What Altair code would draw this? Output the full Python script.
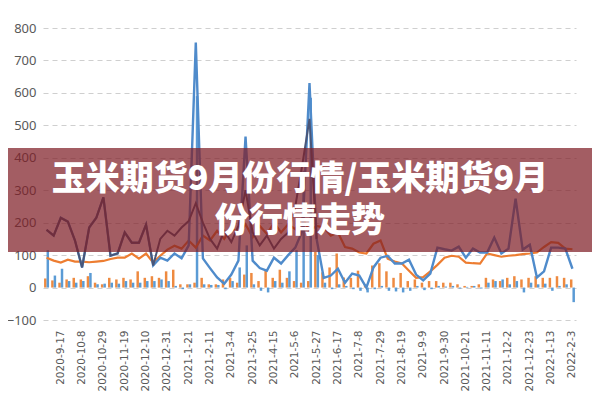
import altair as alt
import pandas as pd

dates = [
    "2020-9-3", "2020-9-10", "2020-9-17", "2020-9-24", "2020-10-1", "2020-10-8", "2020-10-15", "2020-10-22",
    "2020-10-29", "2020-11-5", "2020-11-12", "2020-11-19", "2020-11-26", "2020-12-3", "2020-12-10", "2020-12-17",
    "2020-12-24", "2020-12-31", "2021-1-7", "2021-1-14", "2021-1-21", "2021-1-28", "2021-2-4", "2021-2-11",
    "2021-2-18", "2021-2-25", "2021-3-4", "2021-3-11", "2021-3-18", "2021-3-25", "2021-4-1", "2021-4-8",
    "2021-4-15", "2021-4-22", "2021-4-29", "2021-5-6", "2021-5-13", "2021-5-20", "2021-5-27", "2021-6-3",
    "2021-6-10", "2021-6-17", "2021-6-24", "2021-7-1", "2021-7-8", "2021-7-15", "2021-7-22", "2021-7-29",
    "2021-8-5", "2021-8-12", "2021-8-19", "2021-8-26", "2021-9-2", "2021-9-9", "2021-9-16", "2021-9-23",
    "2021-9-30", "2021-10-7", "2021-10-14", "2021-10-21", "2021-10-28", "2021-11-4", "2021-11-11", "2021-11-18",
    "2021-11-25", "2021-12-2", "2021-12-9", "2021-12-16", "2021-12-23", "2021-12-30", "2022-1-6", "2022-1-13",
    "2022-1-20", "2022-1-27", "2022-2-3",
]
label_dates = [
    "2020-9-17", "2020-10-8", "2020-10-29", "2020-11-19", "2020-12-10", "2020-12-31", "2021-1-21", "2021-2-11",
    "2021-3-4", "2021-3-25", "2021-4-15", "2021-5-6", "2021-5-27", "2021-6-17", "2021-7-8", "2021-7-29",
    "2021-8-19", "2021-9-9", "2021-9-30", "2021-10-21", "2021-11-11", "2021-12-2", "2021-12-23", "2022-1-13",
    "2022-2-3",
]

orange_bars = [28, 22, 15, 25, 30, 25, 35, 15, 10, 30, 25, 30, 25, 50, 30, 35, 30, 50, 55, 10,
               10, 15, 30, 10, 10, 25, 30, 15, 40, 45, 20, 55, 30, 55, 30, 20, 15, 20, 110, 47,
               62, 105, 31, 30, 52, 10, 68, 75, 50, 30, 45, 20, 25, 15, 20, 20, 15, 15, 10, 5,
               5, 10, 30, 25, 20, 30, 35, 25, 30, 35, 30, 30, 35, 30, 25]
blue_bars = [115, 37, 58, 20, 15, 20, 45, 10, 12, 15, 12, 20, 15, 15, 20, 20, 25, 20, 5, -5,
             10, 590, 10, 8, 8, -5, 20, 62, 130, 10, -10, -15, 20, 15, 50, 115, 360, 585, 100, 15,
             -5, 10, 5, -5, -10, -15, -5, 5, -10, -12, -15, -10, 5, -8, -5, 5, 3, 5, -3, 2,
             5, -3, 15, 20, 25, 10, 20, -15, 15, 10, 12, -10, 5, 10, -45]
blue_line = [178, 160, 215, 203, 145, 62, 185, 215, 278, 98, 105, 170, 138, 138, 194, 68, 92, 83, 105, 90,
             130, 755, 90, 60, 31, 12, 40, 83, 465, 83, 60, 52, 92, 74, 100, 123, 175, 630, 150, 30,
             37, 58, 15, 43, 37, 0, 62, 92, 98, 74, 74, 86, 40, 22, 43, 123, 118, 114, 126, 92,
             120, 108, 108, 154, 105, 120, 274, 117, 132, 31, 50, 123, 123, 120, 58]
dark_line = [178, 160, 215, 203, 145, 62, 185, 215, 278, 98, 105, 170, 138, 138, 194, 68, 150, 175, 160, 185,
             205, 260, 200, 150, 120, 175, 140, 190, 300, 170, 130, 160, 120, 150, 170, 250, 380, 520, 150]
orange_line = [92, 83, 77, 86, 80, 80, 78, 80, 82, 88, 92, 92, 105, 89, 105, 77, 98, 117, 129, 120,
               145, 123, 160, 145, 175, 150, 185, 165, 195, 155, 190, 165, 200, 170, 195, 180, 215, 175, 190, 185,
               160, 170, 125, 120, 108, 105, 135, 145, 89, 80, 74, 52, 30, 32, 50, 70, 92, 98, 95, 77,
               75, 74, 105, 100, 95, 98, 100, 103, 105, 108, 125, 140, 138, 120, 118]

title_text = "玉米期货9月份行情/玉米期货9月\n份行情走势"

bars_df = pd.DataFrame({
    "date": dates + dates,
    "series": ["O"] * len(dates) + ["B"] * len(dates),
    "value": orange_bars + blue_bars,
})
blue_df = pd.DataFrame({"date": dates, "value": blue_line})
dark_df = pd.DataFrame({"date": dates[:len(dark_line)], "value": dark_line})
orange_df = pd.DataFrame({"date": dates, "value": orange_line})

W, H = 533, 292
xscale = alt.Scale(domain=dates, paddingInner=0.3, paddingOuter=0.15)
yscale = alt.Scale(domain=[-100, 800], nice=False)

xaxis = alt.Axis(values=label_dates, labelAngle=270, labelFont="DejaVu Sans", labelFontSize=10.5,
                 labelColor="#595959", labelPadding=10, ticks=False, domain=False, grid=False, title=None)
yaxis = alt.Axis(values=list(range(-100, 801, 100)), labelFont="Noto Sans", labelFontSize=13,
                 labelColor="#595959", labelPadding=7, ticks=False, domain=False, grid=True,
                 gridColor="#CFCFCF", gridDash=[5, 4], gridWidth=1, title=None)

bars = alt.Chart(bars_df).mark_bar().encode(
    x=alt.X("date:N", scale=xscale, axis=xaxis),
    xOffset=alt.XOffset("series:N", scale=alt.Scale(domain=["O", "B"])),
    y=alt.Y("value:Q", scale=yscale, axis=yaxis),
    color=alt.Color("series:N", scale=alt.Scale(domain=["O", "B"], range=["#EE8A40", "#5B9BD5"]), legend=None),
)

orange = alt.Chart(orange_df).mark_line(color="#ED7D31", strokeWidth=2.2).encode(
    x=alt.X("date:N", scale=xscale, axis=xaxis), y=alt.Y("value:Q", scale=yscale, axis=yaxis)
)
blue = alt.Chart(blue_df).mark_line(color="#4F8BCB", strokeWidth=2.4).encode(
    x=alt.X("date:N", scale=xscale, axis=xaxis), y=alt.Y("value:Q", scale=yscale, axis=yaxis)
)
dark = alt.Chart(dark_df).mark_line(color="#4A5678", strokeWidth=2).encode(
    x=alt.X("date:N", scale=xscale, axis=xaxis), y=alt.Y("value:Q", scale=yscale, axis=yaxis)
)

band = alt.Chart(pd.DataFrame({"k": [0]})).mark_rect(color="#7F1F27", opacity=0.72).encode(
    x=alt.value(-40), x2=alt.value(W + 20), y=alt.value(120), y2=alt.value(224)
)

title = alt.Chart(pd.DataFrame({"t": [title_text]})).mark_text(
    font="Noto Sans CJK SC", fontSize=34, fontWeight=900, color="white", align="center",
    baseline="middle", lineBreak="\n", lineHeight=42
).encode(
    text="t:N", x=alt.value(257), y=alt.value(152)
)

chart = alt.layer(bars, orange, blue, dark, band, title).properties(
    width=W, height=H, autosize="none",
    padding={"left": 35, "top": 20, "right": 16, "bottom": 72},
    background="white",
).configure_view(stroke=None)

chart.save("out.html", embed_options={"renderer": "svg", "actions": False})
